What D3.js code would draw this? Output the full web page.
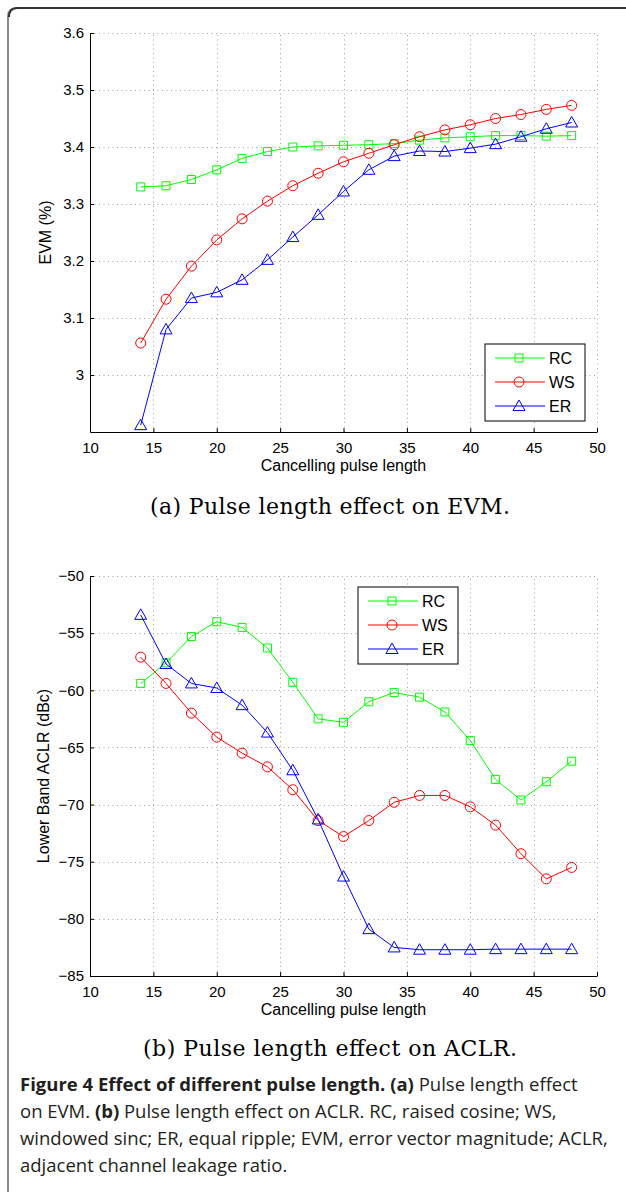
<!DOCTYPE html>
<html>
<head>
<meta charset="utf-8">
<script src="https://cdn.jsdelivr.net/npm/d3@7"></script>
<style>
  body { margin: 0; background: #fff; }
</style>
</head>
<body>
<div id="fig"></div>
<script>
// Data
const pulseLength = [14, 16, 18, 20, 22, 24, 26, 28, 30, 32, 34, 36, 38, 40, 42, 44, 46, 48];

const evmRC = [3.330, 3.332, 3.343, 3.360, 3.380, 3.392, 3.400, 3.402, 3.403, 3.404, 3.406, 3.412, 3.416, 3.418, 3.420, 3.420, 3.419, 3.420];
const evmWS = [3.056, 3.133, 3.191, 3.237, 3.274, 3.305, 3.332, 3.354, 3.374, 3.389, 3.404, 3.418, 3.430, 3.439, 3.450, 3.457, 3.466, 3.473];
const evmER = [2.912, 3.080, 3.135, 3.145, 3.167, 3.202, 3.242, 3.281, 3.322, 3.360, 3.384, 3.393, 3.392, 3.398, 3.405, 3.418, 3.432, 3.443];

const aclrRC = [-59.4, -57.6, -55.3, -54.0, -54.5, -56.3, -59.3, -62.5, -62.8, -61.0, -60.2, -60.6, -61.9, -64.4, -67.8, -69.6, -68.0, -66.2];
const aclrWS = [-57.1, -59.4, -62.0, -64.1, -65.5, -66.7, -68.7, -71.4, -72.8, -71.4, -69.8, -69.2, -69.2, -70.2, -71.8, -74.3, -76.5, -75.5];
const aclrER = [-53.4, -57.7, -59.4, -59.8, -61.3, -63.7, -67.0, -71.3, -76.3, -80.9, -82.5, -82.7, -82.7, -82.7, -82.65, -82.65, -82.65, -82.65];

const seriesNames = ['RC', 'WS', 'ER'];
const seriesColors = ['#00ff00', '#ff0000', '#0000ff'];
const seriesMarkers = ['square', 'circle', 'triangle'];

const xTicks = [10, 15, 20, 25, 30, 35, 40, 45, 50];
const evmTicks = [3, 3.1, 3.2, 3.3, 3.4, 3.5, 3.6];
const evmTickLabels = ['3', '3.1', '3.2', '3.3', '3.4', '3.5', '3.6'];
const aclrTicks = [-85, -80, -75, -70, -65, -60, -55, -50];
const aclrTickLabels = ['\u221285', '\u221280', '\u221275', '\u221270', '\u221265', '\u221260', '\u221255', '\u221250'];

// Layout
const W = 626, H = 1192;
const sans = 'Liberation Sans, Arial, sans-serif';
const plotLeft = 90, plotRight = 597;

const svg = d3.select('#fig').append('svg')
    .attr('width', W)
    .attr('height', H)
    .style('display', 'block');

svg.append('rect').attr('width', W).attr('height', H).attr('fill', '#fff');

// Frame of the figure box (open on the right)
svg.append('path')
    .attr('d', `M8,${H} V17 Q8,8 17,8 H${W}`)
    .attr('fill', 'none')
    .attr('stroke', '#8a8a8a')
    .attr('stroke-width', 2);
svg.append('path')
    .attr('d', `M9,17 Q9,8 17,8 H${W}`)
    .attr('fill', 'none')
    .attr('stroke', '#333')
    .attr('stroke-width', 2);

function markerPath(type) {
    if (type === 'square') return 'M-4,-4H4V4H-4Z';
    if (type === 'circle') return d3.symbol(d3.symbolCircle, Math.PI * 25)();
    return 'M0,-6L6,4.5L-6,4.5Z';
}

function drawPanel(cfg) {
    const x = d3.scaleLinear().domain([10, 50]).range([plotLeft, plotRight]);
    const y = d3.scaleLinear().domain(cfg.yDomain).range([cfg.bottom, cfg.top]);
    const g = svg.append('g');

    // dotted grid
    const grid = g.append('g')
        .attr('stroke', '#a0a0a0')
        .attr('stroke-width', 1)
        .attr('stroke-dasharray', '1,3.5');
    grid.selectAll('.gx').data(xTicks.slice(1)).enter().append('line')
        .attr('x1', d => Math.round(x(d)) + 0.5).attr('x2', d => Math.round(x(d)) + 0.5)
        .attr('y1', cfg.bottom).attr('y2', cfg.top);
    grid.selectAll('.gy').data(cfg.yTicks.filter(t => t !== cfg.yDomain[0])).enter().append('line')
        .attr('y1', d => Math.round(y(d)) + 0.5).attr('y2', d => Math.round(y(d)) + 0.5)
        .attr('x1', plotLeft).attr('x2', plotRight);

    // axes
    const xAxis = g.append('g')
        .attr('transform', `translate(0,${cfg.bottom})`)
        .call(d3.axisBottom(x).tickValues(xTicks).tickSize(-4).tickSizeOuter(0).tickPadding(10));
    const yAxis = g.append('g')
        .attr('transform', `translate(${plotLeft},0)`)
        .call(d3.axisLeft(y).tickValues(cfg.yTicks).tickSize(-4).tickSizeOuter(0).tickPadding(6)
            .tickFormat((d, i) => cfg.yTickLabels[i]));
    [xAxis, yAxis].forEach(a => {
        a.selectAll('path, line').attr('stroke', '#000');
        a.selectAll('text')
            .attr('fill', '#000')
            .style('font-family', sans)
            .style('font-size', '15px');
    });

    // axis labels
    g.append('text')
        .attr('x', (plotLeft + plotRight) / 2)
        .attr('y', cfg.bottom + 39)
        .attr('text-anchor', 'middle')
        .style('font-family', sans)
        .style('font-size', '16px')
        .text('Cancelling pulse length');

    g.append('text')
        .attr('transform', `translate(${cfg.ylabelX},${(cfg.top + cfg.bottom) / 2}) rotate(-90)`)
        .attr('text-anchor', 'middle')
        .style('font-family', sans)
        .style('font-size', '16px')
        .text(cfg.ylabel);

    // series
    cfg.series.forEach((vals, i) => {
        const pts = pulseLength.map((p, j) => [p, vals[j]]);
        g.append('path')
            .datum(pts)
            .attr('fill', 'none')
            .attr('stroke', seriesColors[i])
            .attr('stroke-width', 1)
            .attr('d', d3.line().x(d => x(d[0])).y(d => y(d[1])));
        g.selectAll(null).data(pts).enter().append('path')
            .attr('transform', d => `translate(${x(d[0])},${y(d[1])})`)
            .attr('d', markerPath(seriesMarkers[i]))
            .attr('fill', 'none')
            .attr('stroke', seriesColors[i])
            .attr('stroke-width', 1);
    });

    // legend
    const lg = g.append('g').attr('transform', `translate(${cfg.legend[0]},${cfg.legend[1]})`);
    lg.append('rect')
        .attr('width', 100).attr('height', 77)
        .attr('fill', '#fff').attr('stroke', '#000').attr('stroke-width', 1);
    seriesNames.forEach((name, i) => {
        const ly = 14 + i * 24;
        lg.append('line')
            .attr('x1', 10).attr('x2', 60).attr('y1', ly).attr('y2', ly)
            .attr('stroke', seriesColors[i]);
        lg.append('path')
            .attr('transform', `translate(34,${ly})`)
            .attr('d', markerPath(seriesMarkers[i]))
            .attr('fill', 'none')
            .attr('stroke', seriesColors[i]);
        lg.append('text')
            .attr('x', 64).attr('y', ly + 6)
            .style('font-family', sans)
            .style('font-size', '16px')
            .text(name);
    });

    // sub-caption
    svg.append('text')
        .attr('x', 330)
        .attr('y', cfg.captionY)
        .attr('text-anchor', 'middle')
        .attr('textLength', cfg.captionWidth)
        .attr('lengthAdjust', 'spacing')
        .style('font-family', 'DejaVu Serif, serif')
        .style('font-size', '22px')
        .text(cfg.caption);
}

drawPanel({
    top: 33, bottom: 432,
    yDomain: [2.9, 3.6], yTicks: evmTicks, yTickLabels: evmTickLabels,
    ylabel: 'EVM (%)', ylabelX: 51,
    series: [evmRC, evmWS, evmER],
    legend: [485, 344],
    caption: '(a) Pulse length effect on EVM.', captionY: 514, captionWidth: 360
});

drawPanel({
    top: 576, bottom: 976,
    yDomain: [-85, -50], yTicks: aclrTicks, yTickLabels: aclrTickLabels,
    ylabel: 'Lower Band ACLR (dBc)', ylabelX: 49,
    series: [aclrRC, aclrWS, aclrER],
    legend: [358, 587],
    caption: '(b) Pulse length effect on ACLR.', captionY: 1056, captionWidth: 374
});

// Figure caption
const capLines = [
    [['Figure 4 Effect of different pulse length. ', true], ['(a)', true], [' Pulse length effect', false]],
    [['on EVM. ', false], ['(b)', true], [' Pulse length effect on ACLR. RC, raised cosine; WS,', false]],
    [['windowed sinc; ER, equal ripple; EVM, error vector magnitude; ACLR,', false]],
    [['adjacent channel leakage ratio.', false]]
];
const cap = svg.append('g')
    .style('font-family', 'Open Sans, sans-serif')
    .style('font-size', '18.5px')
    .attr('fill', '#231f20');
capLines.forEach((line, i) => {
    const t = cap.append('text').attr('x', 20).attr('y', 1091 + i * 27);
    line.forEach(([s, bold]) => {
        t.append('tspan').attr('font-weight', bold ? 700 : 400).text(s);
    });
});
</script>
</body>
</html>
